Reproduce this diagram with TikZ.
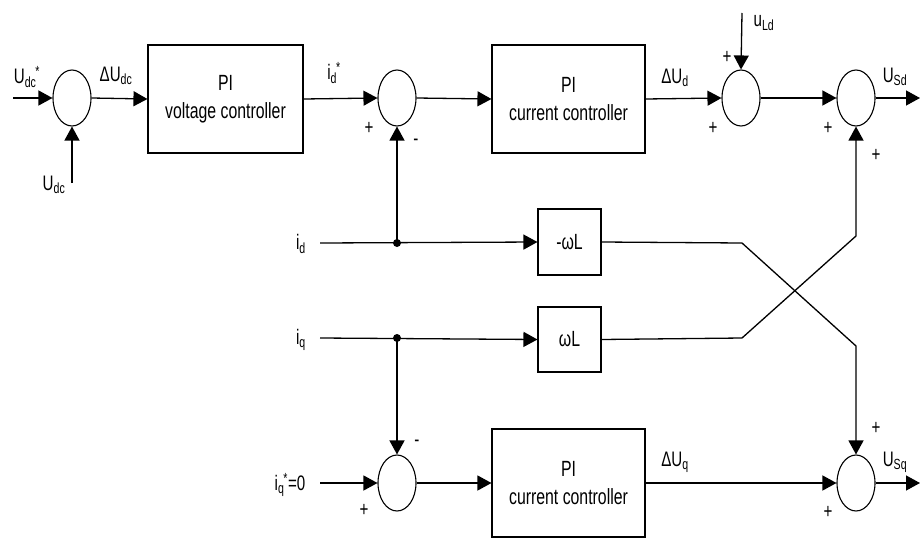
\documentclass[tikz,border=0pt]{standalone}
\usepackage{fontspec}
\setmainfont{Liberation Sans}[FakeStretch=0.72]
\usetikzlibrary{shapes.geometric,arrows.meta}
\tikzset{
	sum/.style={draw,ellipse,minimum width=38pt,minimum height=56pt,inner sep=0pt,line width=1.1pt},
	block/.style={draw,rectangle,inner sep=0pt,line width=1.1pt,align=center,font=\fontsize{22}{28}\selectfont},
	sig/.style={-{Triangle[length=14pt,width=15pt]}},
	lbl/.style={inner sep=0pt,font=\fontsize{21}{23}\selectfont},
	sgn/.style={inner sep=0pt,font=\fontsize{21}{23}\selectfont}
}
\newcommand{\subsup}[2]{\textsubscript{#1}\kern-1pt\textsuperscript{#2}}
\begin{document}
\begin{tikzpicture}[x=1pt,y=-1pt,line width=1.3pt]
			\useasboundingbox (0,0) rectangle (921,538);
			\node[sum] (s1) at (72,98) {};
			\node[sum] (s2) at (397,98) {};
			\node[sum] (s3) at (741,98) {};
			\node[sum] (s4) at (856,98) {};
			\node[sum] (s5) at (397,483) {};
			\node[sum] (s6) at (856,483) {};
			\node[block,minimum width=155pt,minimum height=108pt] (b1) at (225.5,99) {PI\\voltage controller};
			\node[block,minimum width=153pt,minimum height=108pt] (b2) at (568.5,99) {PI\\current controller};
			\node[block,minimum width=153pt,minimum height=108pt] (b3) at (568.5,483) {PI\\current controller};
			\node[block,minimum width=63pt,minimum height=66pt] (bd) at (569.5,242) {-ωL};
			\node[block,minimum width=63pt,minimum height=65pt] (bq) at (569.5,339.5) {ωL};
			
			\coordinate (udcref) at (13,98);
			\coordinate (udc) at (72,183);
			\coordinate (uld) at (742,13);
			\coordinate (usd) at (920,98);
			\coordinate (usq) at (920,483);
			\coordinate (id) at (320,243);
			\coordinate (iq) at (320,338);
			\coordinate (iqref) at (320,483);
			\coordinate (jd) at (397,243);
			\coordinate (jq) at (397,338);
			\coordinate (kd) at (742,243);
			\coordinate (kq) at (742,338);
			\coordinate (ld) at (856,346);
			\coordinate (lq) at (856,236);
			
			\draw[sig] (udcref) -- (s1.west);
			\draw[sig] (udc) -- (s1.south);
			\draw[sig] (s1.east) -- (b1.west);
			\draw[sig] (b1.east) -- (s2.west);
			\draw[sig] (s2.east) -- (b2.west);
			\draw[sig] (b2.east) -- (s3.west);
			\draw[sig] (uld) -- (s3.north);
			\draw[sig] (s3.east) -- (s4.west);
			\draw[sig] (s4.east) -- (usd);
			\draw[sig] (id) -- (bd.west);
			\draw[sig] (jd) -- (s2.south);
			\draw[sig] (iq) -- (bq.west);
			\draw[sig] (jq) -- (s5.north);
			\draw[sig] (iqref) -- (s5.west);
			\draw[sig] (s5.east) -- (b3.west);
			\draw[sig] (b3.east) -- (s6.west);
			\draw[sig] (s6.east) -- (usq);
			\draw[sig] (bd.east) -- (kd) -- (ld) -- (s6.north);
			\draw[sig] (bq.east) -- (kq) -- (lq) -- (s4.south);
			
			\fill (jd) circle (4pt);
			\fill (jq) circle (4pt);
			
			\node[lbl] (l1) at (27,77) {U\subsup{dc}{*}};
			\node[lbl] (l2) at (54,185) {U\textsubscript{dc}};
			\node[lbl] (l3) at (116,76) {ΔU\textsubscript{dc}};
			\node[lbl] (l4) at (334,73) {i\subsup{d}{*}};
			\node[lbl] (l5) at (675,78) {ΔU\textsubscript{d}};
			\node[lbl] (l6) at (764,23) {u\textsubscript{Ld}};
			\node[lbl] (l7) at (895,77) {U\textsubscript{Sd}};
			\node[lbl] (l8) at (301,244) {i\textsubscript{d}};
			\node[lbl] (l9) at (301,340) {i\textsubscript{q}};
			\node[lbl] (l10) at (290,485) {i\subsup{q}{*}=0};
			\node[lbl] (l11) at (675,462) {ΔU\textsubscript{q}};
			\node[lbl] (l12) at (895,462) {U\textsubscript{Sq}};
			
			\node[sgn] (p1) at (369,128) {+};
			\node[sgn] (m1) at (416,142) {-};
			\node[sgn] (p2) at (727,57) {+};
			\node[sgn] (p3) at (713,128) {+};
			\node[sgn] (p4) at (828,128) {+};
			\node[sgn] (p5) at (876,155) {+};
			\node[sgn] (m2) at (417,443) {-};
			\node[sgn] (p6) at (364,510) {+};
			\node[sgn] (p7) at (876,428) {+};
			\node[sgn] (p8) at (828,512) {+};
\end{tikzpicture}
\end{document}
